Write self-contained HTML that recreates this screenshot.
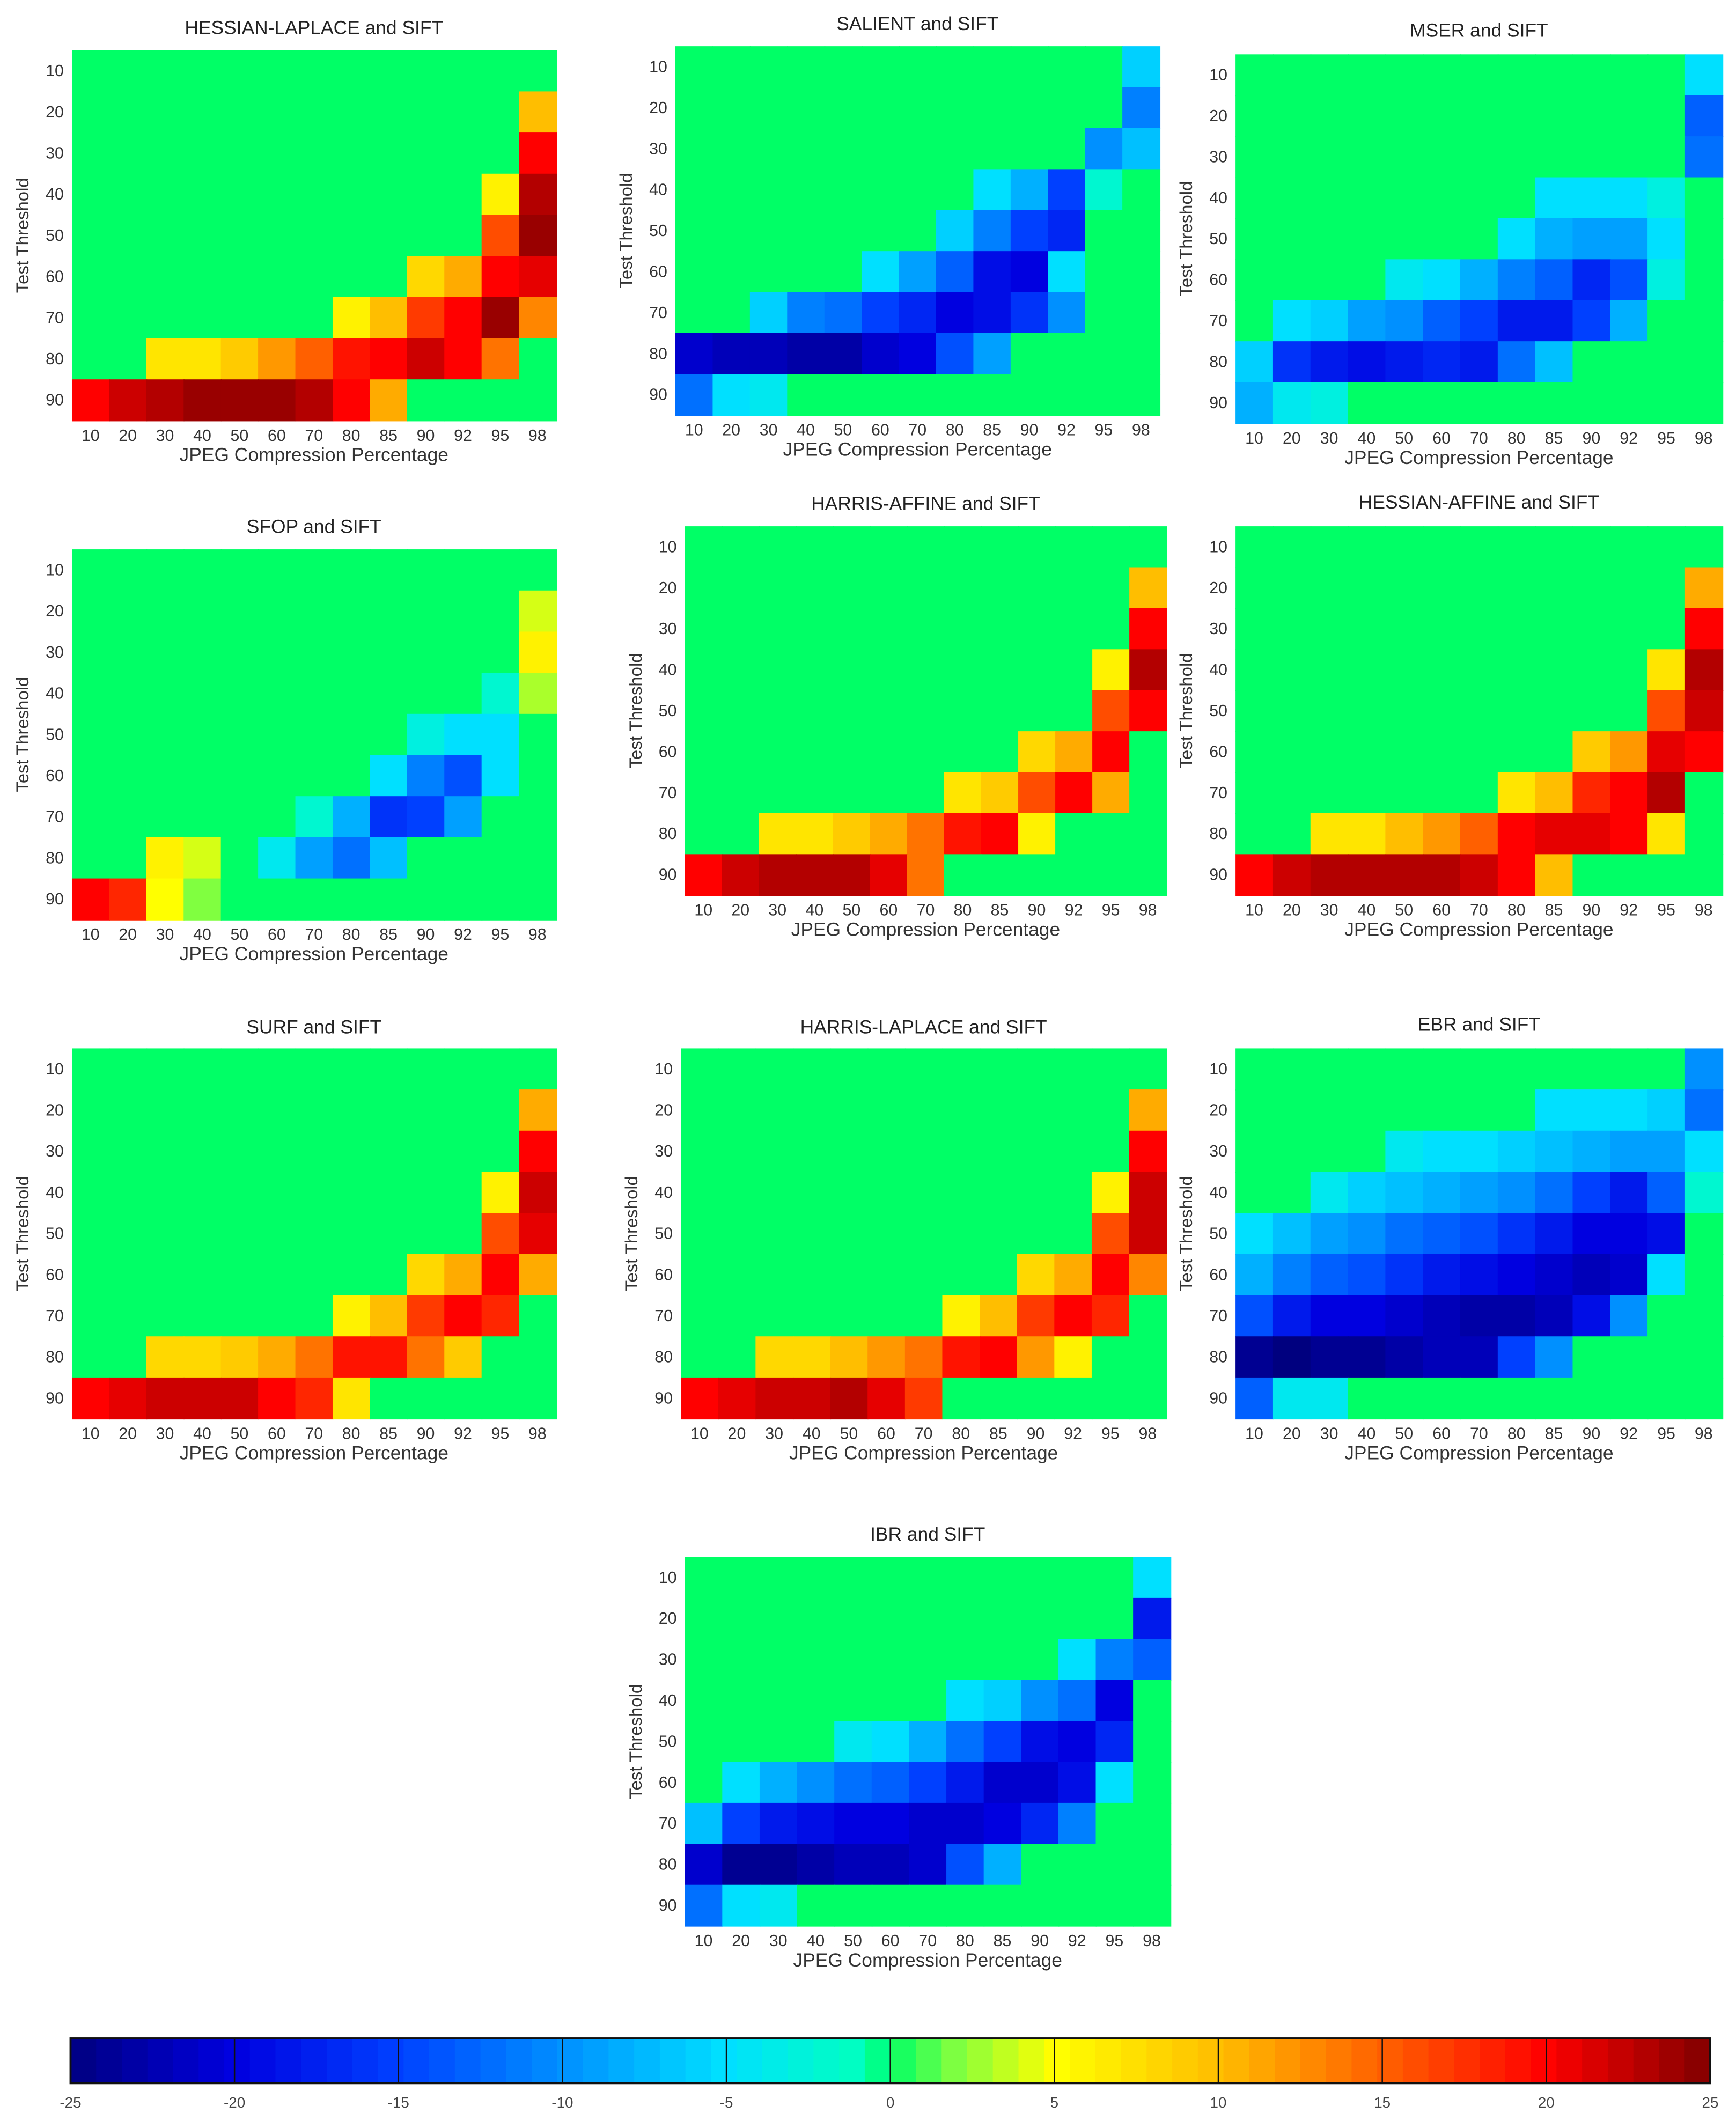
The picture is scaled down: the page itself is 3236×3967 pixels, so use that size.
<!DOCTYPE html>
<html><head><meta charset="utf-8"><style>
html,body{margin:0;padding:0;background:#fff;}
svg{display:block;font-family:"Liberation Sans",Arial,sans-serif;}
</style></head><body>
<svg id="fig" width="3236" height="3967" viewBox="0 0 1280 1569" xmlns="http://www.w3.org/2000/svg"></svg>
<script>
const xCategories = ["10","20","30","40","50","60","70","80","85","90","92","95","98"];
const yCategories = ["10","20","30","40","50","60","70","80","90"];
const colorbarTicks = [-25,-20,-15,-10,-5,0,5,10,15,20,25];
const Z = [0,0,0,0,0,0,0,0,0,0,0,0,0];
const hessianLaplace = [
 Z,
 [0,0,0,0,0,0,0,0,0,0,0,0,10],
 [0,0,0,0,0,0,0,0,0,0,0,0,20],
 [0,0,0,0,0,0,0,0,0,0,0,6,23],
 [0,0,0,0,0,0,0,0,0,0,0,16,24],
 [0,0,0,0,0,0,0,0,0,8,11,20,21],
 [0,0,0,0,0,0,0,6,10,17,20,24,13],
 [0,0,7,7,9,12,15,19,20,22,20,14,0],
 [20,22,23,24,24,24,23,20,11,0,0,0,0]];
const salient = [
 [0,0,0,0,0,0,0,0,0,0,0,0,-6],
 [0,0,0,0,0,0,0,0,0,0,0,0,-11],
 [0,0,0,0,0,0,0,0,0,0,0,-10,-7],
 [0,0,0,0,0,0,0,0,-5,-8,-15,-2,0].slice(0,13),
 [0,0,0,0,0,0,0,-6,-11,-15,-17,0,0],
 [0,0,0,0,0,-5,-9,-13,-19,-20,-5,0,0],
 [0,0,-6,-11,-12,-15,-17,-20,-19,-16,-10,0,0],
 [-21,-22,-22,-23,-23,-21,-20,-14,-9,0,0,0,0],
 [-12,-5,-4,0,0,0,0,0,0,0,0,0,0]];
const mser = [
 [0,0,0,0,0,0,0,0,0,0,0,0,-5],
 [0,0,0,0,0,0,0,0,0,0,0,0,-13],
 [0,0,0,0,0,0,0,0,0,0,0,0,-12],
 [0,0,0,0,0,0,0,0,-5,-5,-5,-3,0],
 [0,0,0,0,0,0,0,-5,-8,-9,-9,-5,0],
 [0,0,0,0,-4,-5,-8,-11,-13,-17,-14,-3,0],
 [0,-5,-6,-9,-10,-13,-15,-18,-18,-15,-8,0,0],
 [-6,-16,-18,-19,-18,-17,-18,-12,-7,0,0,0,0],
 [-8,-4,-3,0,0,0,0,0,0,0,0,0,0]];
const sfop = [
 Z,
 [0,0,0,0,0,0,0,0,0,0,0,0,4],
 [0,0,0,0,0,0,0,0,0,0,0,0,6],
 [0,0,0,0,0,0,0,0,0,0,0,-2,3],
 [0,0,0,0,0,0,0,0,0,-3,-5,-5,0],
 [0,0,0,0,0,0,0,0,-5,-11,-14,-5,0],
 [0,0,0,0,0,0,-2,-8,-16,-15,-9,0,0],
 [0,0,6,4,0,-4,-9,-12,-7,0,0,0,0],
 [20,18,5,2,0,0,0,0,0,0,0,0,0]];
const harrisAffine = [
 Z,
 [0,0,0,0,0,0,0,0,0,0,0,0,10],
 [0,0,0,0,0,0,0,0,0,0,0,0,20],
 [0,0,0,0,0,0,0,0,0,0,0,6,23],
 [0,0,0,0,0,0,0,0,0,0,0,16,20],
 [0,0,0,0,0,0,0,0,0,8,11,20,0],
 [0,0,0,0,0,0,0,7,9,16,20,11,0],
 [0,0,7,7,9,11,14,19,20,6,0,0,0],
 [20,22,23,23,23,21,14,0,0,0,0,0,0]];
const hessianAffine = [
 Z,
 [0,0,0,0,0,0,0,0,0,0,0,0,11],
 [0,0,0,0,0,0,0,0,0,0,0,0,20],
 [0,0,0,0,0,0,0,0,0,0,0,7,23],
 [0,0,0,0,0,0,0,0,0,0,0,16,22],
 [0,0,0,0,0,0,0,0,0,9,12,21,20],
 [0,0,0,0,0,0,0,7,10,18,20,23,0],
 [0,0,7,7,10,12,15,20,21,21,20,7,0],
 [20,22,23,23,23,23,22,20,10,0,0,0,0]];
const surf = [
 Z,
 [0,0,0,0,0,0,0,0,0,0,0,0,11],
 [0,0,0,0,0,0,0,0,0,0,0,0,20],
 [0,0,0,0,0,0,0,0,0,0,0,6,22],
 [0,0,0,0,0,0,0,0,0,0,0,16,21],
 [0,0,0,0,0,0,0,0,0,8,11,20,11],
 [0,0,0,0,0,0,0,6,10,17,20,18,0],
 [0,0,8,8,9,11,14,19,19,14,9,0,0],
 [20,21,22,22,22,20,18,7,0,0,0,0,0]];
const harrisLaplace = [
 Z,
 [0,0,0,0,0,0,0,0,0,0,0,0,11],
 [0,0,0,0,0,0,0,0,0,0,0,0,20],
 [0,0,0,0,0,0,0,0,0,0,0,6,22],
 [0,0,0,0,0,0,0,0,0,0,0,16,22],
 [0,0,0,0,0,0,0,0,0,8,11,20,13],
 [0,0,0,0,0,0,0,6,10,17,20,18,0],
 [0,0,8,8,10,12,14,19,20,12,6,0,0],
 [20,21,22,22,23,21,17,0,0,0,0,0,0]];
const ebr = [
 [0,0,0,0,0,0,0,0,0,0,0,0,-10],
 [0,0,0,0,0,0,0,0,-5,-5,-5,-6,-12],
 [0,0,0,0,-4,-5,-5,-6,-7,-8,-9,-9,-5],
 [0,0,-4,-6,-7,-8,-9,-10,-12,-15,-18,-13,-2],
 [-5,-7,-9,-10,-12,-13,-14,-16,-18,-20,-20,-19,0],
 [-8,-11,-13,-14,-16,-18,-19,-20,-21,-22,-21,-5,0],
 [-14,-18,-20,-20,-21,-22,-23,-23,-22,-19,-10,0,0],
 [-24,-25,-24,-24,-23,-22,-22,-15,-10,0,0,0,0],
 [-13,-4,-4,0,0,0,0,0,0,0,0,0,0]];
const ibr = [
 [0,0,0,0,0,0,0,0,0,0,0,0,-5],
 [0,0,0,0,0,0,0,0,0,0,0,0,-18],
 [0,0,0,0,0,0,0,0,0,0,-5,-11,-13],
 [0,0,0,0,0,0,0,-5,-6,-10,-12,-20,0],
 [0,0,0,0,-4,-5,-8,-12,-15,-19,-20,-17,0],
 [0,-5,-8,-10,-12,-13,-15,-18,-21,-21,-19,-5,0],
 [-7,-15,-18,-19,-20,-20,-21,-21,-20,-17,-11,0,0],
 [-21,-24,-24,-23,-22,-22,-21,-14,-8,0,0,0,0],
 [-12,-5,-4,0,0,0,0,0,0,0,0,0,0]];

const panels = [
 {n:"hessian-laplace",t:"HESSIAN-LAPLACE and SIFT",d:hessianLaplace,g:[53,37,410,310,20]},
 {n:"salient",t:"SALIENT and SIFT",d:salient,g:[498,34,855,306,17]},
 {n:"mser",t:"MSER and SIFT",d:mser,g:[911,40,1270,312,22]},
 {n:"sfop",t:"SFOP and SIFT",d:sfop,g:[53,405,410,678,388]},
 {n:"harris-affine",t:"HARRIS-AFFINE and SIFT",d:harrisAffine,g:[505,388,860,660,371]},
 {n:"hessian-affine",t:"HESSIAN-AFFINE and SIFT",d:hessianAffine,g:[911,388,1270,660,370]},
 {n:"surf",t:"SURF and SIFT",d:surf,g:[53,773,410,1046,757]},
 {n:"harris-laplace",t:"HARRIS-LAPLACE and SIFT",d:harrisLaplace,g:[502,773,860,1046,757]},
 {n:"ebr",t:"EBR and SIFT",d:ebr,g:[911,773,1270,1046,755]},
 {n:"ibr",t:"IBR and SIFT",d:ibr,g:[505,1148,863,1420,1131]}];

const stops=[[-25,[0,0,127]],[-20,[0,0,224]],[-15,[0,64,255]],[-10,[0,144,255]],[-5,[0,224,255]],[-1,[0,255,192]],[0,[0,255,102]],[2,[128,255,64]],[5,[255,255,0]],[10,[255,190,0]],[15,[255,96,0]],[20,[255,0,0]],[25,[128,0,0]]];
function color(v){
 if(v<=stops[0][0])return "rgb("+stops[0][1]+")";
 for(let i=1;i<stops.length;i++){if(v<=stops[i][0]){const a=stops[i-1],b=stops[i];const t=(v-a[0])/(b[0]-a[0]);
 return "rgb("+a[1].map((c,k)=>Math.round(c+(b[1][k]-c)*t)).join(",")+")";}}
 return "rgb(128,0,0)";}
const NS="http://www.w3.org/2000/svg",svg=document.getElementById("fig");
function mk(tag,attrs,parent,text){const e=document.createElementNS(NS,tag);for(const k in attrs)e.setAttribute(k,attrs[k]);if(text!==undefined)e.textContent=text;(parent||svg).appendChild(e);return e;}

panels.forEach(p=>{
 const [L,T,R,B,ty]=p.g;
 const g=mk("g",{});
 
 
 const cw=(R-L)/xCategories.length, ch=(B-T)/yCategories.length;
 const xs=i=>L+i*cw, ys=j=>T+j*ch;
 p.d.forEach((row,j)=>row.forEach((v,i)=>{
  const r=mk("rect",{x:xs(i),y:ys(j),width:cw+0.6,height:ch+0.6,fill:color(v)},g);
  
  
 }));
 const t=mk("text",{x:(L+R)/2,y:ty+5,"text-anchor":"middle","font-size":14,fill:"#222"},g,p.t);
 
 
 yCategories.forEach((c,j)=>{const e=mk("text",{x:L-6,y:ys(j)+ch/2+4,"text-anchor":"end","font-size":12,fill:"#333"},g,c);
  
  });
 xCategories.forEach((c,i)=>{const e=mk("text",{x:xs(i)+cw/2,y:B+15,"text-anchor":"middle","font-size":12,fill:"#333"},g,c);
  
  });
 const xl=mk("text",{x:(L+R)/2,y:B+30,"text-anchor":"middle","font-size":14,fill:"#333"},g,"JPEG Compression Percentage");
 
 
 const cy=(T+B)/2;
 const yl=mk("text",{x:L-32,y:cy,"text-anchor":"middle","font-size":13,fill:"#333",transform:"rotate(-90 "+(L-32)+" "+cy+")"},g,"Test Threshold");
 
 
});

// colorbar
const cbL=52,cbR=1261,cbT=1503,cbB=1536,vmin=-25,vmax=25;
const cx=v=>cbL+(v-vmin)/(vmax-vmin)*(cbR-cbL);
const cb=mk("g",{});


const nb=64;
for(let k=0;k<nb;k++){const v0=vmin+k*(vmax-vmin)/nb,v1=vmin+(k+1)*(vmax-vmin)/nb;
 const r=mk("rect",{x:cx(v0),y:cbT,width:cx(v1)-cx(v0)+0.5,height:cbB-cbT,fill:color((v0+v1)/2)},cb);
 
 }
mk("rect",{x:cbL,y:cbT,width:cbR-cbL,height:cbB-cbT,fill:"none",stroke:"#111","stroke-width":1.5},cb);
colorbarTicks.forEach(v=>{
 mk("line",{x1:cx(v),x2:cx(v),y1:cbT,y2:cbB,stroke:"#111","stroke-width":1},cb);
 const e=mk("text",{x:cx(v),y:cbB+18,"text-anchor":"middle","font-size":11,fill:"#444"},cb,String(v));
 
 
});
</script>
</body></html>
